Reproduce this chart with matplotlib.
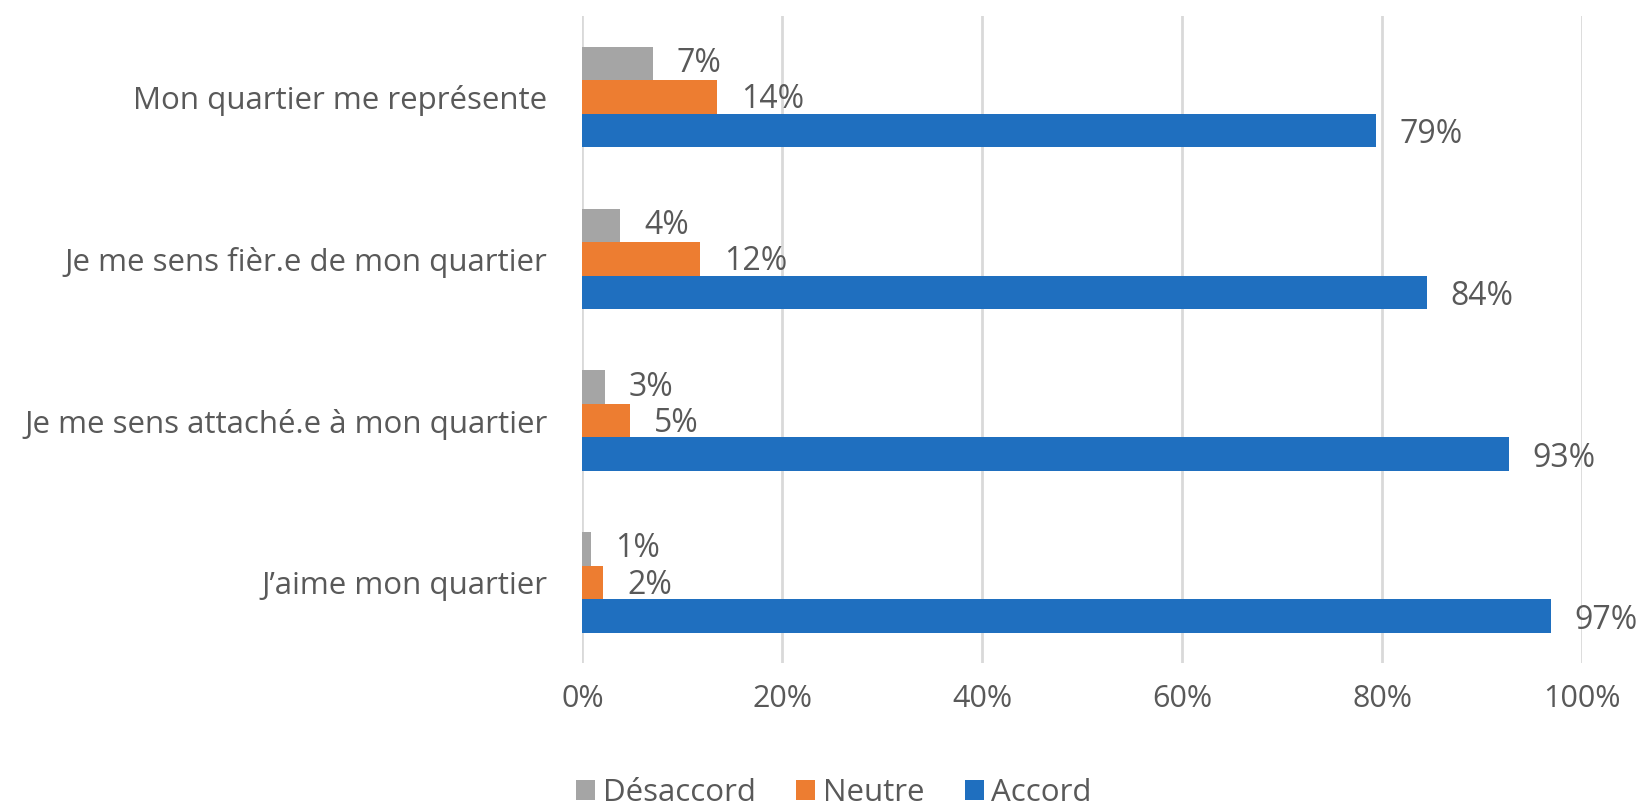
import matplotlib
matplotlib.use("Agg")
import matplotlib.pyplot as plt
import numpy as np

categories = ["J\u2019aime mon quartier", "Je me sens attach\u00e9.e \u00e0 mon quartier",
              "Je me sens fi\u00e8r.e de mon quartier", "Mon quartier me repr\u00e9sente"]
desaccord = [0.9, 2.3, 3.8, 7.1]
neutre = [2.1, 4.8, 11.8, 13.5]
accord = [96.9, 92.7, 84.5, 79.4]
desaccord_lbl = ["1%", "3%", "4%", "7%"]
neutre_lbl = ["2%", "5%", "12%", "14%"]
accord_lbl = ["97%", "93%", "84%", "79%"]
xticks = [0, 20, 40, 60, 80, 100]
xtick_labels = ["0%", "20%", "40%", "60%", "80%", "100%"]

plt.rcParams['font.family'] = ['Open Sans', 'DejaVu Sans']
txt = '#595959'
fs = 22.5

fig = plt.figure(figsize=(16.45, 8.06), dpi=100)
ax = fig.add_axes([0.354, 0.177, 0.6077, 0.803])

y = np.arange(len(categories))
h = 0.207
c_gray, c_or, c_bl = '#a5a5a5', '#ed7d31', '#1f6fbf'
b1 = ax.barh(y + h, desaccord, height=h, color=c_gray, label='D\u00e9saccord', zorder=3)
b2 = ax.barh(y, neutre, height=h, color=c_or, label='Neutre', zorder=3)
b3 = ax.barh(y - h, accord, height=h, color=c_bl, label='Accord', zorder=3)
for bars, lbls, dy in ((b1, desaccord_lbl, 0), (b2, neutre_lbl, -2), (b3, accord_lbl, -3)):
    texts = ax.bar_label(bars, labels=lbls, padding=17, fontsize=fs + 0.5, color=txt)
    for t in texts:
        t.xyann = (17, dy)

ax.set_xlim(0, 100)
ax.set_ylim(-0.5, 3.5)
ax.set_yticks(y)
ax.set_yticklabels(categories, fontsize=fs, color=txt)
ax.set_xticks(xticks)
ax.set_xticklabels(xtick_labels, fontsize=fs - 0.5, color=txt)
ax.tick_params(axis='both', length=0)
ax.tick_params(axis='y', pad=25)
ax.tick_params(axis='x', pad=15)
for s in ax.spines.values():
    s.set_visible(False)
ax.grid(axis='x', color='#d9d9d9', linewidth=2, zorder=0)
ax.set_axisbelow(True)

fig.legend(handles=[b1, b2, b3], loc='center', bbox_to_anchor=(0.507, 0.016),
           ncol=3, frameon=False, fontsize=fs, labelcolor=txt,
           handlelength=0.6, handleheight=0.6, handletextpad=0.25, columnspacing=1.3)

fig.savefig("out.png", dpi=100)
